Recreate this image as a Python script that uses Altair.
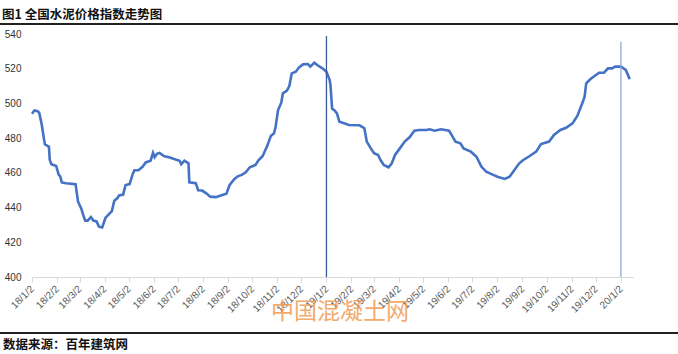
import altair as alt
import pandas as pd

dates = [
    "2018-01-02", "2018-01-05", "2018-01-09", "2018-01-11", "2018-01-14", "2018-01-17", "2018-01-18",
    "2018-01-23", "2018-01-24", "2018-01-26", "2018-02-01", "2018-02-04", "2018-02-06", "2018-02-08",
    "2018-02-13", "2018-02-25", "2018-02-28", "2018-03-04", "2018-03-07", "2018-03-09", "2018-03-12",
    "2018-03-16", "2018-03-19", "2018-03-23", "2018-03-26", "2018-03-30", "2018-04-03", "2018-04-08",
    "2018-04-11", "2018-04-14", "2018-04-18", "2018-04-20", "2018-04-25", "2018-04-28", "2018-05-03",
    "2018-05-07", "2018-05-09", "2018-05-14", "2018-05-19", "2018-05-23", "2018-05-29", "2018-06-01",
    "2018-06-03", "2018-06-06", "2018-06-09", "2018-06-15", "2018-06-21", "2018-06-27", "2018-07-04",
    "2018-07-06", "2018-07-10", "2018-07-15", "2018-07-16", "2018-07-24", "2018-07-27", "2018-08-01",
    "2018-08-06", "2018-08-11", "2018-08-18", "2018-08-24", "2018-08-31", "2018-09-04", "2018-09-10",
    "2018-09-14", "2018-09-19", "2018-09-24", "2018-09-29", "2018-10-06", "2018-10-10", "2018-10-15",
    "2018-10-21", "2018-10-25", "2018-10-29", "2018-10-31", "2018-11-03", "2018-11-07", "2018-11-09",
    "2018-11-14", "2018-11-17", "2018-11-20", "2018-11-25", "2018-11-29", "2018-12-04", "2018-12-10",
    "2018-12-13", "2018-12-18", "2018-12-22", "2018-12-28", "2019-01-02", "2019-01-06", "2019-01-07",
    "2019-01-09", "2019-01-12", "2019-01-15", "2019-01-18", "2019-01-22", "2019-01-30", "2019-02-12",
    "2019-02-18", "2019-02-21", "2019-02-26", "2019-03-02", "2019-03-07", "2019-03-10", "2019-03-14",
    "2019-03-20", "2019-03-24", "2019-03-28", "2019-04-03", "2019-04-09", "2019-04-15", "2019-04-21",
    "2019-04-27", "2019-05-06", "2019-05-10", "2019-05-16", "2019-05-24", "2019-06-03", "2019-06-11",
    "2019-06-17", "2019-06-21", "2019-06-30", "2019-07-07", "2019-07-13", "2019-07-19", "2019-07-25",
    "2019-08-02", "2019-08-11", "2019-08-17", "2019-08-23", "2019-08-29", "2019-09-03", "2019-09-11",
    "2019-09-19", "2019-09-25", "2019-10-05", "2019-10-11", "2019-10-19", "2019-10-26", "2019-11-03",
    "2019-11-09", "2019-11-15", "2019-11-18", "2019-11-20", "2019-11-25", "2019-11-29", "2019-12-06",
    "2019-12-12", "2019-12-17", "2019-12-22", "2019-12-26", "2020-01-02", "2020-01-08", "2020-01-13",
]
values = [
    494, 496, 495.5, 494.5, 488, 479, 476.5,
    475, 467.5, 465, 464, 459, 458, 454.5,
    454, 453.5, 443.5, 439.5, 435, 432.5, 432.5,
    434.5, 432.5, 432, 429, 428.5, 434, 436.5,
    438, 444, 445.5, 447, 447.5, 453, 453.5,
    459.5, 461.5, 461.5, 463.5, 466, 467, 471.5,
    469, 471, 471.5, 469.5, 469, 468, 467,
    465, 467, 465.5, 454.5, 454, 450, 449.8,
    448.2, 446.3, 446, 447, 448, 453, 456.5,
    458, 458.8, 460.3, 463.2, 464.5, 467.4, 469.7,
    476, 481.2, 482.8, 486.6, 496.2, 500.4, 505.8,
    507.4, 510, 517.3, 518.3, 520.8, 522.5, 522.7,
    521.2, 523.5, 522, 520.2, 518.3, 513.5, 510.5,
    497, 496, 494.3, 489.5, 488.9, 487.6, 487.4,
    485.7, 478, 474.1, 471.3, 470.3, 467.4, 464.5,
    463.2, 465.5, 470.3, 474.1, 478, 480.5, 484.3,
    484.7, 484.7, 485.1, 484.3, 485.1, 484.3, 478,
    477, 474.1, 472.2, 469.3, 463.6, 460.7, 459.4,
    457.8, 456.5, 457.8, 461.7, 465.5, 467.4, 469.7,
    472.2, 476.6, 478, 481.8, 484.7, 486, 488.5,
    492.8, 500, 503.9, 511.6, 513.9, 515.4, 517.7,
    517.7, 520.2, 520.2, 521.2, 521.2, 519.3, 514,
]

marker_dates = ["2019-01-02", "2020-01-02"]
marker_tops = [538.8, 535.6]
marker_colors = ["#3A5A9C", "#8EA9DB"]

tick_dates = [(y, m) for y in (2018, 2019) for m in range(1, 13)] + [(2020, 1)]
y_ticks = [400, 420, 440, 460, 480, 500, 520, 540]

title_text = "图1 全国水泥价格指数走势图"
source_text = "数据来源：百年建筑网"
watermark_text = "中国混凝土网"

df = pd.DataFrame({"date": [d + "T00:00:00" for d in dates], "value": values})
mk = pd.DataFrame({"date": [d + "T00:00:00" for d in marker_dates], "top": marker_tops,
                   "c": marker_colors, "base": [400, 400]})

W, H = 601, 243
cjk = "Noto Sans CJK SC"

xscale = alt.Scale(domain=[alt.DateTime(year=2018, month=1, date=2),
                           alt.DateTime(year=2020, month=1, date=17)])
yscale = alt.Scale(domain=[400, 540])

xaxis = alt.Axis(
    title=None,
    values=[alt.DateTime(year=y, month=m, date=2) for y, m in tick_dates],
    format="%y/%-m/%-d", formatType="time",
    labelAngle=-45, labelAlign="right", labelBaseline="middle",
    labelPadding=5, labelFontSize=10, labelColor="#595959", labelFont="Liberation Sans",
    grid=False, domainColor="#D9D9D9", tickColor="#D9D9D9", tickSize=5,
    labelOverlap=False, labelFlush=False,
)
yaxis = alt.Axis(
    title=None, values=y_ticks,
    grid=False, domain=False, ticks=False, labelPadding=11,
    labelFontSize=10, labelColor="#333333", labelFont="Liberation Sans",
    labelOverlap=False, labelFlush=False,
)

line = alt.Chart(df).mark_line(color="#4472C4", strokeWidth=2.6).encode(
    x=alt.X("date:T", scale=xscale, axis=xaxis),
    y=alt.Y("value:Q", scale=yscale, axis=yaxis),
)

rules = alt.Chart(mk).mark_rule(strokeWidth=1.3).encode(
    x=alt.X("date:T", scale=xscale, axis=xaxis),
    y=alt.Y("base:Q", scale=yscale, axis=yaxis),
    y2="top:Q",
    color=alt.Color("c:N", scale=None, legend=None),
)

top_rule = alt.Chart(df).mark_rule(color="#222222", strokeWidth=2).encode(
    x=alt.value(-32), x2=alt.value(W + 45), y=alt.value(-10))
bottom_rule = alt.Chart(df).mark_rule(color="#222222", strokeWidth=2).encode(
    x=alt.value(-32), x2=alt.value(W + 45), y=alt.value(299))

title = alt.Chart(pd.DataFrame({"t": [title_text]})).mark_text(
    align="left", baseline="alphabetic", font=cjk, fontSize=12.5, fontWeight="bold", color="#111111"
).encode(text="t:N", x=alt.value(-30), y=alt.value(-15))

source = alt.Chart(pd.DataFrame({"t": [source_text]})).mark_text(
    align="left", baseline="alphabetic", font=cjk, fontSize=12.5, fontWeight="bold", color="#111111"
).encode(text="t:N", x=alt.value(-29), y=alt.value(315))

watermark = alt.Chart(pd.DataFrame({"t": [watermark_text]})).mark_text(
    align="center", baseline="middle", font=cjk, fontSize=23, color="#F2A25C", opacity=0.9
).encode(text="t:N", x=alt.value(308), y=alt.value(278))

chart = alt.layer(line, rules, top_rule, bottom_rule, title, source, watermark).properties(
    width=W, height=H,
    background="white",
    autosize=alt.AutoSizeParams(type="none"),
    padding={"left": 32, "top": 34, "right": 45, "bottom": 77},
).configure_view(stroke=None)

chart.save("out.html", embed_options={"renderer": "svg", "actions": False})
